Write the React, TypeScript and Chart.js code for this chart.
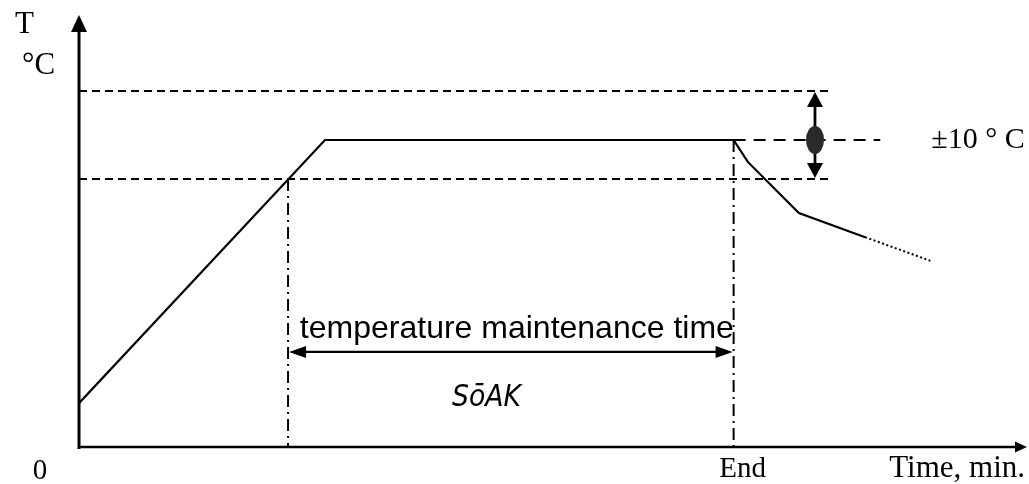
import { useEffect, useRef } from "react";
import { Chart, registerables } from "chart.js";

Chart.register(...registerables);

// Schematic units: time (arbitrary, 0..100) and temperature (°C, 0..100)
const axisMax = 100;

// Temperature profile (solid part) and the dotted continuation
const profileTime = [0, 26.0, 69.2, 70.7, 76.1, 83.1];
const profileTemp = [10.2, 71.4, 71.4, 66.3, 54.4, 48.8];
const coolTailTime = [83.1, 90.0];
const coolTailTemp = [48.8, 43.3];

// Set point and ±10 °C band
const setpointTemp = 71.4;
const bandUpperTemp = 82.8;
const bandLowerTemp = 62.3;
const bandLineTime = [0, 79.4];
const setpointLineTime = [69.2, 84.7];
const toleranceArrowTime = 77.8;

// Soak (temperature maintenance) interval
const soakStartTime = 22.1;
const soakEndTime = 69.2;
const soakArrowTemp = 22.1;

// Texts
const yAxisLabels = ["T", "°C"];
const xAxisLabels = ["0", "End", "Time, min."];
const toleranceLabel = "±10 ° C";
const soakLabel = "temperature maintenance time";
const soakCode = "SōAK";

const pts = (xs: number[], ys: number[]) => xs.map((x, i) => ({ x, y: ys[i] }));

function arrowHead(
  ctx: CanvasRenderingContext2D,
  tx: number,
  ty: number,
  dx: number,
  dy: number,
  len: number,
  half: number
) {
  const bx = tx - dx * len;
  const by = ty - dy * len;
  const nx = -dy;
  const ny = dx;
  ctx.beginPath();
  ctx.moveTo(tx, ty);
  ctx.lineTo(bx + nx * half, by + ny * half);
  ctx.lineTo(bx - nx * half, by - ny * half);
  ctx.closePath();
  ctx.fill();
}

const schematicPlugin = {
  id: "schematic",
  afterDatasetsDraw(chart: any) {
    const ctx: CanvasRenderingContext2D = chart.ctx;
    const xs = chart.scales.x;
    const ys = chart.scales.y;
    const { left, right, top, bottom } = chart.chartArea;
    ctx.save();
    ctx.fillStyle = "#000";
    ctx.strokeStyle = "#000";
    ctx.setLineDash([]);

    // Y axis with arrow
    ctx.lineWidth = 3;
    ctx.beginPath();
    ctx.moveTo(left, bottom + 2);
    ctx.lineTo(left, top + 8);
    ctx.stroke();
    arrowHead(ctx, left, top - 2, 0, -1, 17, 8);

    // X axis with arrow
    ctx.lineWidth = 2.5;
    ctx.beginPath();
    ctx.moveTo(left - 1, bottom);
    ctx.lineTo(right - 4, bottom);
    ctx.stroke();
    arrowHead(ctx, right + 2, bottom, 1, 0, 12, 5.5);

    // Soak double arrow
    const sy = ys.getPixelForValue(soakArrowTemp);
    const sx0 = xs.getPixelForValue(soakStartTime);
    const sx1 = xs.getPixelForValue(soakEndTime);
    ctx.lineWidth = 2.2;
    ctx.beginPath();
    ctx.moveTo(sx0 + 8, sy);
    ctx.lineTo(sx1 - 8, sy);
    ctx.stroke();
    arrowHead(ctx, sx0 + 1, sy, -1, 0, 17, 6);
    arrowHead(ctx, sx1 - 1, sy, 1, 0, 17, 6);

    // Tolerance double arrow and marker
    const tx = xs.getPixelForValue(toleranceArrowTime);
    const ty0 = ys.getPixelForValue(bandUpperTemp);
    const ty1 = ys.getPixelForValue(bandLowerTemp);
    const tyc = ys.getPixelForValue(setpointTemp);
    ctx.lineWidth = 2.8;
    ctx.beginPath();
    ctx.moveTo(tx, ty0 + 8);
    ctx.lineTo(tx, ty1 - 8);
    ctx.stroke();
    arrowHead(ctx, tx, ty0 + 1, 0, -1, 15, 8);
    arrowHead(ctx, tx, ty1 - 1, 0, 1, 15, 8);
    ctx.fillStyle = "#2a2a2a";
    ctx.beginPath();
    ctx.ellipse(tx, tyc, 9, 14, 0, 0, Math.PI * 2);
    ctx.fill();
    ctx.fillStyle = "#000";

    // Serif labels
    ctx.font = "31px 'Liberation Serif', 'Times New Roman', serif";
    ctx.textAlign = "left";
    ctx.textBaseline = "alphabetic";
    ctx.fillText(yAxisLabels[0], left - 64, top + 16);
    ctx.fillText(yAxisLabels[1], left - 57, top + 57);

    ctx.font = "30px 'Liberation Serif', 'Times New Roman', serif";
    ctx.fillText(toleranceLabel, xs.getPixelForValue(setpointLineTime[1]) + 51, tyc + 8);

    ctx.font = "29px 'Liberation Serif', 'Times New Roman', serif";
    ctx.textAlign = "center";
    ctx.fillText(xAxisLabels[0], left - 39, bottom + 32);
    ctx.fillText(xAxisLabels[1], sx1 + 9, bottom + 30);
    ctx.textAlign = "right";
    ctx.font = "31px 'Liberation Serif', 'Times New Roman', serif";
    ctx.fillText(xAxisLabels[2], right, bottom + 30);

    // Sans label above the soak arrow
    ctx.font = "32px 'Liberation Sans', Arial, sans-serif";
    ctx.textAlign = "center";
    ctx.fillText(soakLabel, (sx0 + sx1) / 2 + 6, sy - 14);

    // Display code
    ctx.save();
    ctx.translate(sx0 + 164, sy + 54);
    ctx.scale(0.86, 1);
    ctx.font = "italic 31px 'DejaVu Sans', sans-serif";
    ctx.textAlign = "left";
    ctx.fillText(soakCode, 0, 0);
    ctx.restore();

    ctx.restore();
  },
};

export default function App() {
  const canvasRef = useRef<HTMLCanvasElement | null>(null);

  useEffect(() => {
    const canvas = canvasRef.current;
    if (!canvas) return;
    const line = (data: any[], extra: any = {}) => ({
      data,
      showLine: true,
      borderColor: "#000",
      backgroundColor: "#000",
      borderWidth: 2,
      pointRadius: 0,
      tension: 0,
      fill: false,
      ...extra,
    });
    const chart = new Chart(canvas, {
      type: "scatter",
      data: {
        datasets: [
          line(pts(profileTime, profileTemp), { borderWidth: 2.2 }),
          line(pts(coolTailTime, coolTailTemp), { borderDash: [2, 2.5], borderWidth: 2 }),
          line(pts(bandLineTime, [bandUpperTemp, bandUpperTemp]), { borderDash: [8, 5] }),
          line(pts(bandLineTime, [bandLowerTemp, bandLowerTemp]), { borderDash: [8, 5] }),
          line(pts(setpointLineTime, [setpointTemp, setpointTemp]), { borderDash: [12, 8] }),
          line(pts([soakStartTime, soakStartTime], [bandLowerTemp, 0]), { borderDash: [12, 5, 2, 5] }),
          line(pts([soakEndTime, soakEndTime], [setpointTemp, 0]), { borderDash: [12, 5, 2, 5] }),
        ],
      },
      options: {
        animation: false,
        responsive: false,
        layout: { padding: { left: 79, top: 17, right: 4, bottom: 37 } },
        plugins: { legend: { display: false }, tooltip: { enabled: false } },
        scales: {
          x: { type: "linear", min: 0, max: axisMax, display: false },
          y: { type: "linear", min: 0, max: axisMax, display: false },
        },
      },
      plugins: [schematicPlugin],
    });
    return () => chart.destroy();
  }, []);

  return (
    <div style={{ position: "fixed", left: 0, top: 0, width: 1029, height: 484, background: "#fff" }}>
      <canvas ref={canvasRef} width={1029} height={484} style={{ display: "block" }} />
    </div>
  );
}
